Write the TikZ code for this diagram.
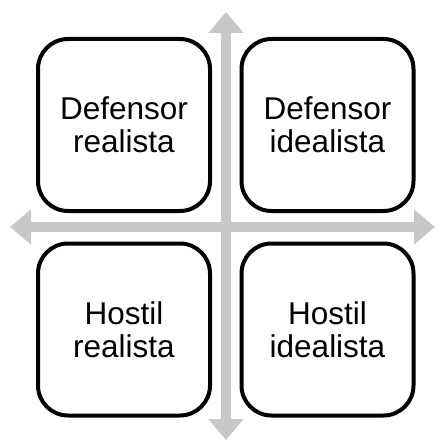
\documentclass[tikz,border=0pt]{standalone}
\usepackage{fontspec}
\setmainfont{Liberation Sans}
\usetikzlibrary{arrows.meta}
\definecolor{axisgray}{HTML}{C8C8C8}
\begin{document}
\begin{tikzpicture}[x=1pt,y=-1pt,
  quad/.style={draw=black,line width=4pt,rounded corners=30pt,fill=white,
    minimum width=172pt,minimum height=172pt,inner sep=0pt,
    align=center,font=\fontsize{31.5pt}{33.5pt}\selectfont},
  axis/.style={draw=axisgray,line width=10pt,
    {Triangle[width=34pt,length=21pt]}-{Triangle[width=34pt,length=21pt]}}]
\useasboundingbox (0,0) rectangle (435,441);
\coordinate (top) at (226,12);
\coordinate (bot) at (226,440);
\coordinate (lft) at (10,227);
\coordinate (rgt) at (435,227);
\draw[axis] (top) -- (bot);
\draw[axis] (lft) -- (rgt);
\node[quad] (dr) at (124,125) {Defensor\\realista};
\node[quad] (di) at (327.5,125) {Defensor\\idealista};
\node[quad] (hr) at (124,329.5) {Hostil\\realista};
\node[quad] (hi) at (327.5,329.5) {Hostil\\idealista};
\end{tikzpicture}
\end{document}
